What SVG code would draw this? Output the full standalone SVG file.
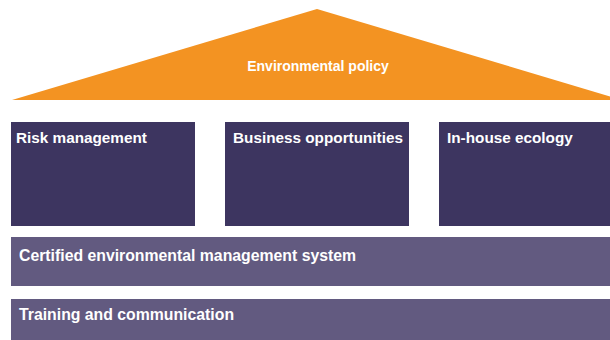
<svg xmlns="http://www.w3.org/2000/svg" width="610" height="340" viewBox="0 0 610 340">
<style>
.t{font-family:"Liberation Sans",Arial,sans-serif;font-weight:bold;fill:#ffffff;font-size:15.3px}
.tb{font-size:15.8px}
.tp{font-size:14px}
.box{fill:#3d3560}
.bar{fill:#625a80}
</style>
<rect width="610" height="340" fill="#ffffff"/>
<g id="policy">
<polygon points="12,100 317,9 622,100" fill="#f39322"/>
<text class="t tp" x="318" y="71" text-anchor="middle">Environmental policy</text>
</g>
<g id="risk">
<rect class="box" x="11" y="122" width="184" height="104"/>
<text class="t" x="16" y="143">Risk management</text>
</g>
<g id="business">
<rect class="box" x="225" y="122" width="184" height="104"/>
<text class="t" x="233" y="143">Business opportunities</text>
</g>
<g id="ecology">
<rect class="box" x="439" y="122" width="171" height="104"/>
<text class="t" x="447" y="143">In-house ecology</text>
</g>
<g id="ems">
<rect class="bar" x="11" y="237" width="599" height="49"/>
<text class="t tb" x="19" y="261">Certified environmental management system</text>
</g>
<g id="training">
<rect class="bar" x="11" y="299" width="599" height="41"/>
<text class="t tb" x="19" y="320">Training and communication</text>
</g>
<g id="connectors"></g>
</svg>
